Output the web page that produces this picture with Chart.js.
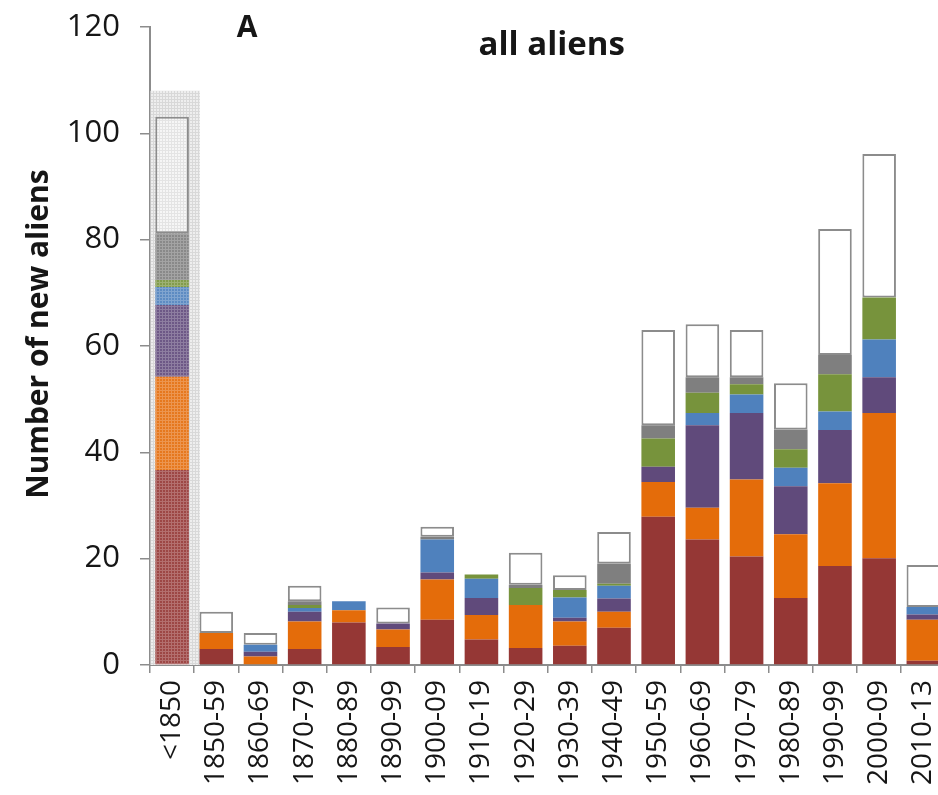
<!DOCTYPE html>
<html>
<head>
<meta charset="utf-8">
<script src="https://cdn.jsdelivr.net/npm/chart.js@4/dist/chart.umd.min.js"></script>
<style>
  html, body { margin: 0; padding: 0; background: #ffffff; overflow: hidden; width: 938px; height: 795px; }
  #wrap { position: absolute; left: 0; top: 0; width: 964px; height: 795px; }
</style>
</head>
<body>
<div id="wrap"><canvas id="c"></canvas></div>
<script>
// Decades of first record
const periods = ['<1850', '1850-59', '1860-69', '1870-79', '1880-89', '1890-99', '1900-09', '1910-19',
  '1920-29', '1930-39', '1940-49', '1950-59', '1960-69', '1970-79', '1980-89', '1990-99', '2000-09', '2010-13'];

// Number of new aliens per group, stacked bottom to top
const group1 = [36.7, 3, 0, 3, 8, 3.4, 8.5, 4.8, 3.2, 3.6, 7, 27.9, 23.6, 20.4, 12.6, 18.6, 20.1, 0.8];
const group2 = [17.5, 3, 1.6, 5.2, 2.3, 3.3, 7.6, 4.6, 8.1, 4.6, 3, 6.5, 6, 14.5, 12, 15.6, 27.3, 7.7];
const group3 = [13.5, 0, 0.9, 1.8, 0, 1.1, 1.3, 3.2, 0, 0.7, 2.5, 2.9, 15.5, 12.5, 9, 10, 6.7, 1];
const group4 = [3.4, 0, 1.3, 0.7, 1.7, 0, 6.2, 3.6, 0, 3.8, 2.4, 0, 2.3, 3.5, 3.5, 3.5, 7.1, 1.4];
const group5 = [1.3, 0, 0, 0.6, 0, 0, 0, 0.8, 3.2, 1.4, 0.4, 5.3, 3.8, 1.9, 3.5, 7, 7.9, 0];
const group6 = [8.8, 0, 0, 0.7, 0, 0, 0.5, 0, 0.6, 0, 3.8, 2.5, 2.9, 1.3, 3.7, 3.6, 0, 0];
const group7 = [21.9, 4, 2.2, 2.9, 0, 3.0, 1.9, 0, 6.0, 2.8, 5.9, 17.9, 10, 8.9, 8.7, 23.7, 27, 7.9];

const yTicks = [0, 20, 40, 60, 80, 100, 120];

const colors = ['#953735', '#E46C0A', '#604A7B', '#4F81BD', '#77933C', '#7F7F7F', '#FFFFFF'];
const edge = '#8C8C8C';
const ink = '#161616';
const FONT = '"Open Sans", "DejaVu Sans", sans-serif';

const canvas = document.getElementById('c');
const c2d = canvas.getContext('2d');

function mix(hex, t) {
  const n = parseInt(hex.slice(1), 16);
  const r = (n >> 16) & 255, g = (n >> 8) & 255, b = n & 255;
  const f = v => Math.round(v + (255 - v) * t);
  return `rgb(${f(r)},${f(g)},${f(b)})`;
}

// fine grid texture used for the pre-1850 column
function texture(base, line) {
  const t = document.createElement('canvas');
  t.width = 3; t.height = 3;
  const g = t.getContext('2d');
  g.fillStyle = base; g.fillRect(0, 0, 3, 3);
  g.fillStyle = line; g.fillRect(0, 0, 3, 1); g.fillRect(0, 0, 1, 3);
  return c2d.createPattern(t, 'repeat');
}

const textures = colors.map((col, i) => i === 6
  ? texture('#f6f6f6', '#e4e4e4')
  : texture(mix(col, 0.08), mix(col, 0.28)));
const haze = texture('#eeeeee', '#d8d8d8');

const series = [group1, group2, group3, group4, group5, group6, group7];
const datasets = series.map((vals, i) => ({
  label: 'Group ' + (i + 1),
  data: vals,
  backgroundColor: ctx => ctx.dataIndex === 0 ? textures[i] : colors[i],
  borderColor: edge,
  borderWidth: i === 6 ? 2 : 0,
  borderSkipped: false,
  stack: 'all'
}));

// highlighted backdrop behind the first column, axis title and panel labels
const decor = {
  id: 'decor',
  beforeDatasetsDraw(chart) {
    const bar = chart.getDatasetMeta(0).data[0];
    if (!bar) return;
    const y = chart.scales.y;
    const ctx = chart.ctx;
    const top = y.getPixelForValue(108);
    ctx.save();
    ctx.fillStyle = haze;
    ctx.fillRect(bar.x - bar.width / 2 - 5, top, bar.width + 16, y.getPixelForValue(0) - top);
    ctx.restore();
  },
  afterDraw(chart) {
    const a = chart.chartArea;
    const ctx = chart.ctx;
    ctx.save();
    ctx.fillStyle = ink;
    ctx.textAlign = 'center';
    ctx.textBaseline = 'middle';
    ctx.font = 'bold 30px ' + FONT;
    ctx.fillText('A', a.left + 97, a.top + 1);
    ctx.font = 'bold 33px ' + FONT;
    ctx.fillText('all aliens', (a.left + a.right) / 2 + 4, a.top + 19);
    ctx.translate(39, (a.top + a.bottom) / 2 - 12);
    ctx.rotate(-Math.PI / 2);
    ctx.font = 'bold 30px ' + FONT;
    ctx.fillText('Number of new aliens', 0, 0);
    ctx.restore();
  }
};

new Chart(canvas, {
  type: 'bar',
  data: { labels: periods, datasets },
  plugins: [decor],
  options: {
    responsive: true,
    maintainAspectRatio: false,
    animation: false,
    layout: { padding: { top: 27, right: 2, left: 0, bottom: 0 } },
    plugins: { legend: { display: false }, tooltip: { enabled: false } },
    datasets: { bar: { categoryPercentage: 1, barPercentage: 0.76 } },
    scales: {
      x: {
        stacked: true,
        grid: { display: true, drawOnChartArea: false, offset: true, tickLength: 8, color: edge, lineWidth: 1.5 },
        border: { display: true, color: edge, width: 2 },
        ticks: {
          autoSkip: false, minRotation: 90, maxRotation: 90, padding: 7,
          color: ink, font: { family: FONT, size: 28 }
        },
        afterFit(scale) { scale.height = 130; }
      },
      y: {
        stacked: true,
        min: 0, max: 120,
        afterBuildTicks(scale) { scale.ticks = yTicks.map(v => ({ value: v })); },
        grid: { display: true, drawOnChartArea: false, tickLength: 10, color: edge, lineWidth: 1.5 },
        border: { display: true, color: edge, width: 2 },
        ticks: { padding: 20, color: ink, font: { family: FONT, size: 31, lineHeight: 0.4 } },
        afterFit(scale) { scale.width = 150; }
      }
    }
  }
});
</script>
</body>
</html>
